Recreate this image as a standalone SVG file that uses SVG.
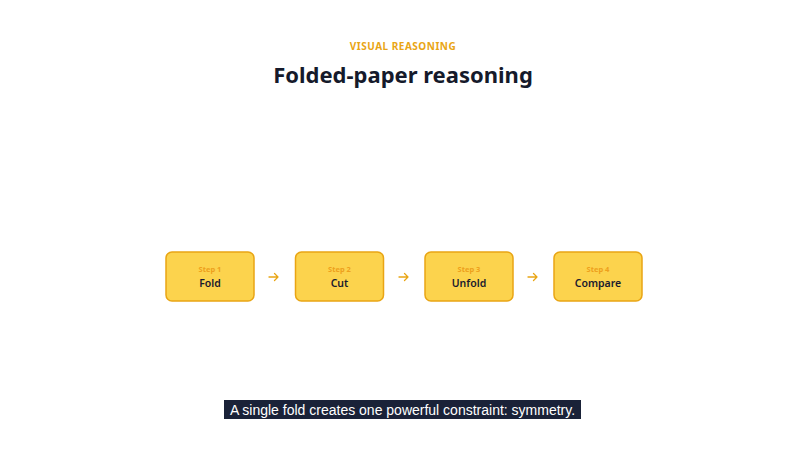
<svg xmlns="http://www.w3.org/2000/svg" width="806" height="453" viewBox="0 0 806 453">
<style>
.box{fill:#fcd34d;stroke:#e9a514;stroke-width:1.5}
.step{font:700 7.5px "Noto Sans",sans-serif;fill:#eea01c;text-anchor:middle}
.lab{font:600 10.5px "Noto Sans",sans-serif;fill:#1a1a2e;text-anchor:middle}
.arr{stroke:#e9a514;stroke-width:1.3;fill:none;stroke-linecap:round;stroke-linejoin:round}
</style>
<rect width="806" height="453" fill="#fff"/>
<text x="403" y="50" text-anchor="middle" style="font:700 10px 'Noto Sans',sans-serif;fill:#e9a514;letter-spacing:0.5px">VISUAL REASONING</text>
<text x="403" y="83" text-anchor="middle" style="font:700 22px 'Noto Sans',sans-serif;fill:#151a2b">Folded-paper reasoning</text>
<g id="n1"><rect class="box" x="166" y="252" width="88" height="49" rx="6"/><text class="step" x="210" y="272">Step 1</text><text class="lab" x="210" y="287">Fold</text></g>
<g id="n2"><rect class="box" x="295.5" y="252" width="88" height="49" rx="6"/><text class="step" x="339.5" y="272">Step 2</text><text class="lab" x="339.5" y="287">Cut</text></g>
<g id="n3"><rect class="box" x="425" y="252" width="88" height="49" rx="6"/><text class="step" x="469" y="272">Step 3</text><text class="lab" x="469" y="287">Unfold</text></g>
<g id="n4"><rect class="box" x="554" y="252" width="88" height="49" rx="6"/><text class="step" x="598" y="272">Step 4</text><text class="lab" x="598" y="287">Compare</text></g>
<g id="connectors">
<path class="arr" d="M269 277h9M274.5 273.5l3.5 3.5l-3.5 3.5"/>
<path class="arr" d="M399 277h9M404.5 273.5l3.5 3.5l-3.5 3.5"/>
<path class="arr" d="M528 277h9M533.5 273.5l3.5 3.5l-3.5 3.5"/>
</g>
<rect x="224" y="400" width="357" height="19" fill="#1a2238"/>
<text x="402.5" y="414.5" text-anchor="middle" style="font:14px 'Liberation Sans',sans-serif;fill:#fff">A single fold creates one powerful constraint: symmetry.</text>
</svg>
